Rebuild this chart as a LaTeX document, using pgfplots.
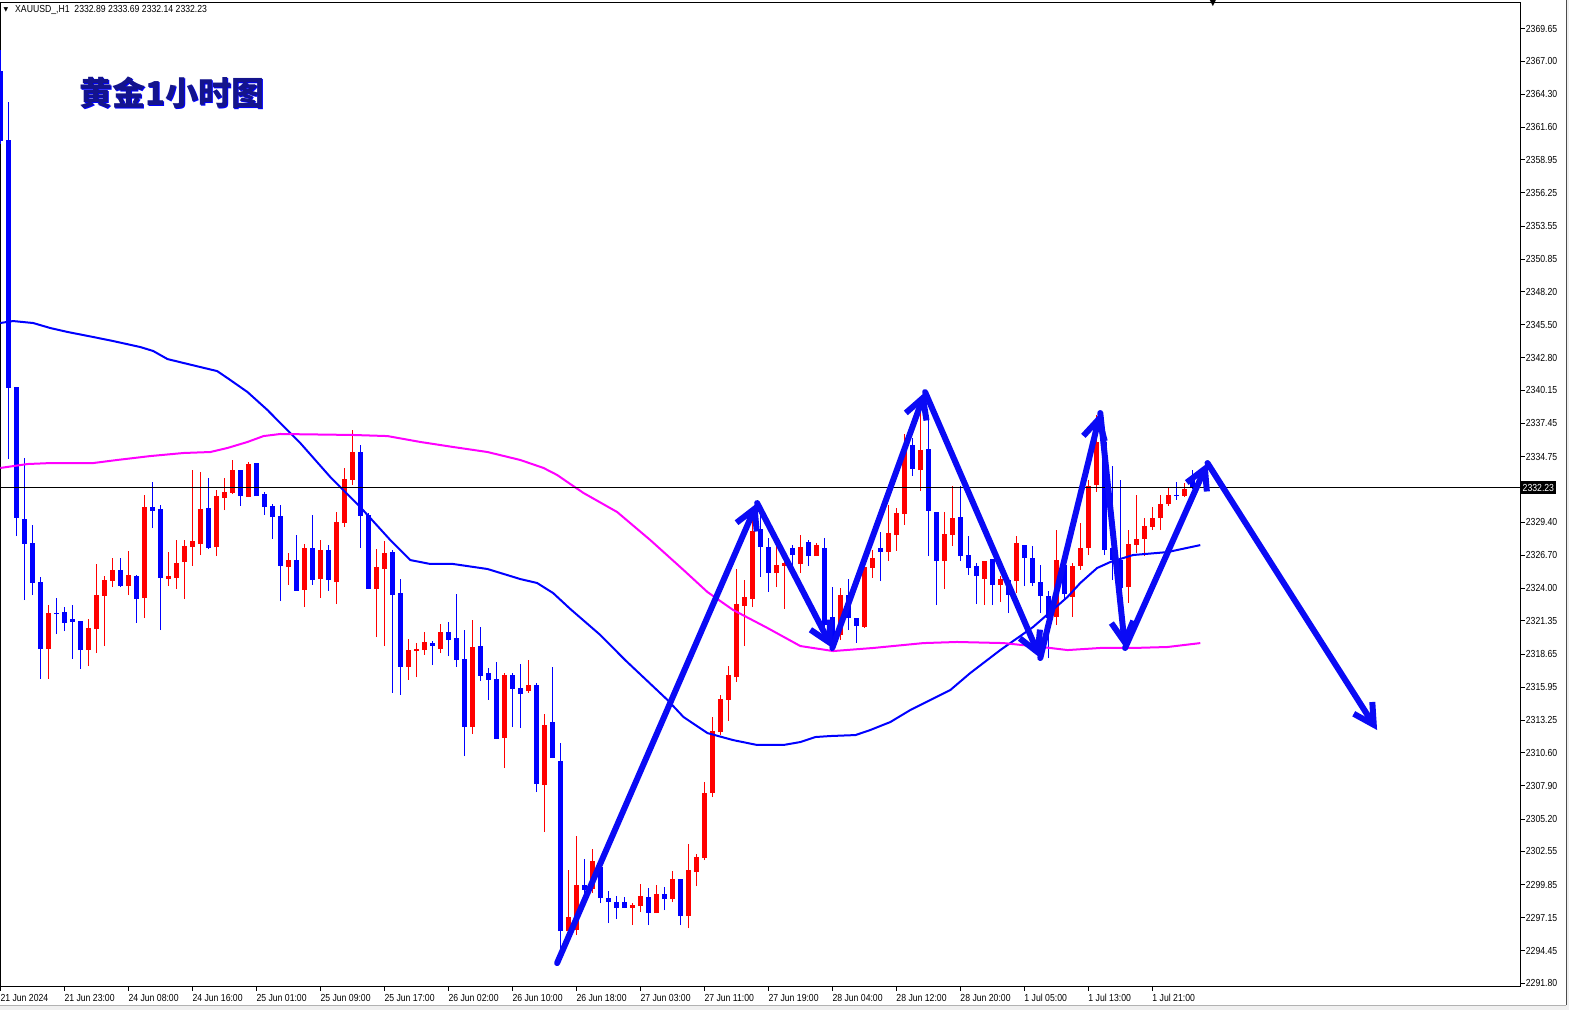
\documentclass[border=0pt]{standalone}
\usepackage{fontspec}
\usepackage{pgfplots}
\usepackage{pgfplotstable}
\pgfplotsset{compat=1.18}
\usetikzlibrary{arrows.meta}
\setmainfont{Liberation Sans}
\newfontfamily\tickfont[FakeStretch=0.85]{Liberation Sans}
\newfontfamily\cjk{Noto Sans CJK SC}
\newfontfamily\sym{DejaVu Sans}
\definecolor{mablue}{RGB}{0,0,255}
\definecolor{mamag}{RGB}{255,0,255}
\definecolor{candred}{RGB}{255,0,0}
\definecolor{arrblue}{RGB}{10,10,245}

\pgfplotstableread{
i O H L C
6 2319.05 2322.64 2316.61 2321.99
11 2318.97 2321.50 2317.67 2320.77
12 2320.68 2325.99 2318.73 2323.46
13 2323.38 2325.01 2319.30 2324.68
14 2324.60 2326.47 2324.11 2325.49
16 2324.19 2327.05 2323.46 2325.10
18 2323.21 2331.61 2321.58 2330.63
21 2324.76 2326.96 2324.19 2325.01
22 2324.85 2327.94 2323.95 2326.07
23 2326.15 2327.94 2323.13 2327.45
24 2327.37 2333.65 2325.83 2327.86
25 2327.62 2333.49 2326.72 2330.47
27 2327.37 2332.02 2326.64 2331.53
28 2331.37 2333.00 2330.39 2331.86
29 2331.78 2334.47 2331.70 2333.65
31 2331.45 2334.30 2331.45 2334.14
36 2325.74 2326.88 2324.28 2326.31
38 2323.87 2327.62 2322.48 2327.30
40 2324.76 2327.94 2323.21 2327.13
42 2324.52 2330.23 2322.72 2329.42
43 2329.33 2333.82 2329.01 2332.92
44 2332.84 2336.91 2332.43 2335.12
47 2323.95 2327.21 2320.03 2325.74
48 2325.57 2327.86 2319.30 2326.88
51 2317.59 2319.87 2316.53 2318.97
52 2318.89 2319.55 2316.77 2319.05
53 2318.97 2320.44 2318.57 2319.63
55 2319.05 2321.09 2318.73 2320.44
59 2312.69 2321.42 2312.12 2319.22
63 2311.79 2317.10 2309.35 2316.94
66 2315.63 2318.16 2315.47 2316.12
68 2307.96 2313.75 2304.13 2312.86
71 2296.06 2301.03 2295.32 2297.20
72 2296.14 2303.80 2295.73 2299.81
74 2299.48 2302.75 2299.16 2301.77
79 2297.93 2298.34 2296.55 2298.18
80 2298.10 2299.89 2297.61 2298.93
82 2297.52 2299.81 2297.52 2299.08
84 2298.67 2300.95 2298.42 2300.30
86 2297.28 2303.15 2296.30 2301.03
87 2300.87 2302.34 2299.73 2302.09
88 2302.01 2308.21 2301.85 2307.31
89 2307.31 2313.51 2306.98 2312.36
90 2312.28 2315.31 2312.04 2314.98
91 2314.90 2317.67 2313.18 2316.94
92 2316.77 2325.57 2316.36 2322.72
93 2322.56 2324.68 2319.30 2323.30
94 2323.13 2330.39 2322.48 2328.68
97 2325.25 2327.53 2324.11 2325.91
98 2325.83 2326.96 2322.32 2326.07
100 2325.99 2328.35 2325.25 2327.37
102 2326.64 2327.70 2326.64 2327.53
105 2320.20 2324.03 2319.79 2323.46
108 2320.85 2325.91 2320.77 2325.74
109 2325.66 2327.13 2324.85 2326.47
111 2326.96 2330.80 2326.23 2328.51
112 2328.35 2330.55 2327.05 2330.15
113 2330.07 2336.59 2329.17 2335.53
115 2333.65 2338.71 2331.94 2335.28
118 2326.23 2330.23 2323.95 2328.43
119 2328.35 2332.35 2327.45 2329.74
123 2324.76 2326.23 2322.64 2326.23
125 2324.28 2325.01 2322.89 2324.76
127 2324.60 2328.27 2323.63 2327.70
132 2321.67 2328.76 2321.01 2326.31
134 2323.30 2326.07 2321.67 2325.83
135 2325.83 2329.33 2325.49 2327.30
136 2327.30 2332.84 2326.72 2332.35
137 2332.43 2338.14 2331.86 2335.94
141 2324.11 2328.76 2322.81 2327.62
142 2327.53 2331.61 2326.88 2328.03
143 2328.03 2329.74 2326.64 2329.09
144 2329.01 2330.63 2328.76 2329.74
145 2329.74 2331.61 2328.76 2330.88
146 2330.88 2332.27 2330.72 2331.61
148 2331.53 2332.59 2331.45 2332.10
}\bull

\pgfplotstableread{
i O H L C
0 2366.19 2367.90 2360.24 2360.48
1 2360.56 2363.66 2334.55 2340.34
2 2340.42 2340.42 2328.27 2329.74
3 2329.66 2334.63 2323.05 2327.62
4 2327.70 2329.17 2323.46 2324.44
5 2324.52 2324.93 2316.61 2319.05
7 2321.99 2323.21 2320.28 2321.91
8 2322.07 2322.48 2320.52 2321.18
9 2321.50 2322.64 2318.24 2321.26
10 2321.34 2321.34 2317.42 2318.97
15 2325.49 2326.47 2324.11 2324.19
17 2325.01 2325.10 2321.18 2323.13
19 2330.63 2332.67 2328.92 2330.31
20 2330.47 2330.80 2320.60 2324.85
26 2330.55 2333.00 2327.21 2327.30
30 2333.65 2333.65 2330.72 2331.53
32 2334.22 2334.22 2331.53 2331.53
33 2331.70 2331.86 2329.99 2330.63
34 2330.72 2330.88 2328.03 2329.82
35 2329.91 2330.80 2322.97 2325.83
37 2326.31 2328.35 2323.79 2323.79
39 2327.30 2329.99 2324.28 2324.68
41 2327.13 2327.53 2323.79 2324.68
45 2335.12 2335.69 2327.30 2329.91
46 2329.99 2330.15 2323.95 2323.95
49 2326.96 2327.13 2315.47 2323.46
50 2323.63 2324.76 2315.31 2317.59
54 2319.55 2319.71 2317.75 2319.30
56 2320.44 2321.26 2318.48 2319.79
57 2319.95 2323.54 2317.59 2318.16
58 2318.24 2320.60 2310.32 2312.69
60 2319.30 2320.85 2316.45 2316.86
61 2317.10 2317.51 2314.90 2316.53
62 2316.61 2318.00 2311.71 2311.71
64 2316.94 2317.10 2312.69 2315.79
65 2315.87 2317.83 2312.61 2315.39
67 2316.12 2316.28 2307.39 2308.05
69 2313.10 2317.59 2310.16 2310.16
70 2309.92 2311.39 2294.26 2296.06
73 2299.81 2301.93 2299.16 2299.40
75 2301.28 2301.28 2298.34 2298.75
76 2298.75 2299.32 2296.71 2298.42
77 2298.42 2298.93 2297.03 2297.93
78 2298.42 2298.85 2297.93 2297.93
81 2298.85 2299.56 2296.55 2297.52
83 2299.08 2299.65 2297.77 2298.67
85 2300.30 2300.30 2296.55 2297.28
95 2328.84 2330.15 2324.93 2327.37
96 2327.37 2328.11 2323.71 2325.25
99 2327.30 2327.53 2324.93 2326.72
101 2327.78 2327.94 2325.83 2326.64
103 2327.30 2328.11 2320.85 2321.01
104 2321.67 2324.11 2319.22 2319.79
106 2323.46 2324.76 2320.60 2321.58
107 2321.58 2321.58 2319.55 2320.93
110 2327.30 2328.59 2324.60 2326.96
114 2335.69 2336.26 2333.17 2333.73
116 2335.36 2338.14 2326.64 2330.31
117 2330.23 2330.23 2322.64 2326.23
120 2329.82 2332.35 2326.23 2326.64
121 2326.72 2328.27 2325.10 2325.66
122 2325.83 2326.07 2322.72 2325.01
124 2326.39 2326.39 2322.64 2324.28
126 2324.68 2324.85 2321.99 2323.46
128 2327.53 2327.53 2324.19 2326.47
129 2326.47 2327.45 2324.19 2324.44
130 2324.52 2325.91 2321.99 2323.38
131 2323.38 2323.79 2318.32 2321.58
133 2325.91 2326.31 2323.05 2323.54
138 2335.94 2336.51 2326.72 2327.13
139 2327.30 2333.98 2324.68 2326.31
140 2326.31 2332.84 2322.24 2324.03
147 2331.61 2332.67 2331.21 2331.53
149 2332.89 2333.69 2332.14 2332.23
}\bear

\pgfplotstableread{
x y
0 2345.64
1.6 2345.80
4.1 2345.64
6.25 2345.23
8.4 2344.91
11.6 2344.50
14.1 2344.17
17.5 2343.68
19.1 2343.36
20.9 2342.70
22.9 2342.38
25 2342.05
27.1 2341.72
28.4 2341.15
30.9 2340.01
33.4 2338.54
35 2337.48
37.5 2335.85
41.25 2333.08
45 2330.63
48.75 2327.94
51.25 2326.31
53.75 2325.99
56.6 2325.99
60.9 2325.58
65 2324.76
67.1 2324.44
69.1 2323.62
71.25 2322.32
75 2320.20
78.1 2318.16
83.4 2314.90
85.4 2313.51
88.4 2312.20
91.6 2311.63
94.6 2311.23
97.9 2311.23
100 2311.47
101.9 2311.88
103.75 2311.96
106.9 2312.04
108.75 2312.45
111.25 2313.10
113.75 2314.08
116.25 2314.90
118.75 2315.71
121.25 2317.10
125 2318.97
129.1 2320.85
133.4 2323.30
135 2324.44
137.1 2325.66
138.75 2326.15
141.6 2326.72
145.9 2326.96
150 2327.53
}\mafast

\pgfplotstableread{
x y
0 2333.82
3.4 2334.14
6.25 2334.22
11.6 2334.22
14.6 2334.47
18.75 2334.79
22.9 2335.04
26.25 2335.12
28.4 2335.45
30.9 2335.94
32.9 2336.42
35 2336.59
44.1 2336.51
48.4 2336.42
52.5 2335.94
56.6 2335.53
60.9 2335.12
65 2334.47
67.9 2333.82
69.6 2333.25
71.25 2332.51
72.9 2331.78
77.1 2330.23
81.25 2327.94
85.4 2325.50
88.4 2323.70
91.6 2322.24
95.9 2320.77
100 2319.30
104.1 2318.89
109.1 2319.14
115.4 2319.54
119.6 2319.63
125.4 2319.54
131.25 2319.14
133.4 2318.97
137.5 2319.14
141.6 2319.14
145.9 2319.22
150 2319.54
}\maslow

\pgfplotsset{
  wick/.style={draw=none, mark=none, forget plot,
    error bars/.cd, y dir=plus, y explicit, error mark=none,
    error bar style={draw=#1, line width=1pt}},
  body/.style={draw=none, mark=none, forget plot,
    error bars/.cd, y dir=plus, y explicit, error mark=none,
    error bar style={draw=#1, line width=5pt}},
  arr/.style={draw=arrblue, line width=6pt, line cap=round, line join=round,
    -{Straight Barb[length=20pt,width=22pt]}, forget plot},
}

\begin{document}
\begin{tikzpicture}
\useasboundingbox (0,-23.3pt) rectangle (1569pt,986.7pt);
\fill[white] (0,-23.3pt) rectangle (1569pt,986.7pt);
\begin{axis}[
  at={(0pt,0pt)}, anchor=south west,
  scale only axis, width=1520.7pt, height=984pt,
  xmin=-0.04, xmax=190.05, ymin=2291.52, ymax=2371.76,
  axis line style={line width=0.8pt},
  tick align=outside, major tick length=4pt,
  tick style={black, line width=0.8pt},
  xtick pos=lower, xticklabel pos=lower,
  ytick pos=upper, yticklabel pos=upper,
  xtick={0,8,...,144},
  xticklabels={21 Jun 2024,21 Jun 23:00,24 Jun 08:00,24 Jun 16:00,25 Jun 01:00,25 Jun 09:00,25 Jun 17:00,26 Jun 02:00,26 Jun 10:00,26 Jun 18:00,27 Jun 03:00,27 Jun 11:00,27 Jun 19:00,28 Jun 04:00,28 Jun 12:00,28 Jun 20:00,1 Jul 05:00,1 Jul 13:00,1 Jul 21:00},
  ytick={2291.80,2294.45,2297.15,2299.85,2302.55,2305.20,2307.90,2310.60,2313.25,2315.95,2318.65,2321.35,2324.00,2326.70,2329.40,2334.75,2337.45,2340.15,2342.80,2345.50,2348.20,2350.85,2353.55,2356.25,2358.95,2361.60,2364.30,2367.00,2369.65},
  yticklabels={2291.80,2294.45,2297.15,2299.85,2302.55,2305.20,2307.90,2310.60,2313.25,2315.95,2318.65,2321.35,2324.00,2326.70,2329.40,2334.75,2337.45,2340.15,2342.80,2345.50,2348.20,2350.85,2353.55,2356.25,2358.95,2361.60,2364.30,2367.00,2369.65},
  /pgf/number format/assume math mode=true,
  tick label style={font=\tickfont\fontsize{10.2}{11}\selectfont, inner sep=0pt},
  xticklabel style={anchor=north west, yshift=-3pt},
  yticklabel style={anchor=west, xshift=1pt},
]
\addplot[wick=candred] table[x=i, y=L, y error expr={\thisrow{H}-\thisrow{L}}] {\bull};
\addplot[body=candred] table[x=i, y=O, y error expr={max(\thisrow{C}-\thisrow{O},0.08)}] {\bull};
\addplot[wick=mablue] table[x=i, y=L, y error expr={\thisrow{H}-\thisrow{L}}] {\bear};
\addplot[body=mablue] table[x=i, y=C, y error expr={max(\thisrow{O}-\thisrow{C},0.08)}] {\bear};

\addplot[mablue, line width=2pt, forget plot] table[x=x, y=y] {\mafast};
\addplot[mamag, line width=2pt, forget plot] table[x=x, y=y] {\maslow};

\addplot[black, line width=1pt, forget plot] coordinates {(-1,2332.23) (191,2332.23)};

\addplot[arr] coordinates {(69.6,2293.45) (94.6,2330.96)};
\addplot[arr] coordinates {(94.6,2330.96) (104,2319.14)};
\addplot[arr] coordinates {(104,2319.14) (115.6,2340.01)};
\addplot[arr] coordinates {(115.6,2340.01) (130,2318.32)};
\addplot[arr] coordinates {(130,2318.32) (137.5,2338.30)};
\addplot[arr] coordinates {(137.5,2338.30) (140.6,2319.14)};
\addplot[arr] coordinates {(140.6,2319.14) (150.9,2334.22)};
\addplot[arr] coordinates {(150.9,2334.22) (172.1,2312.45)};
\end{axis}

% title with shadow
\node[font=\cjk\bfseries\fontsize{33}{33}\selectfont, text=blue, inner sep=0pt] at (173.3pt,892.5pt) {黄金1小时图};
\node[font=\cjk\bfseries\fontsize{33}{33}\selectfont, text={rgb,255:red,20;green,20;blue,140}, inner sep=0pt] at (172pt,893.7pt) {黄金1小时图};

% header info
\node[font=\sym\fontsize{6}{6}\selectfont, inner sep=0pt] at (6pt,976.7pt) {▼};
\node[anchor=west, font=\tickfont\fontsize{10.2}{11}\selectfont, inner sep=0pt] at (15pt,976.7pt) {XAUUSD\_,H1\ \ 2332.89 2333.69 2332.14 2332.23};
\node[font=\sym\fontsize{10}{10}\selectfont, inner sep=0pt, anchor=north] at (1213pt,987.5pt) {▼};

% current price label
\node[fill=black, text=white, font=\tickfont\fontsize{10.2}{11}\selectfont, inner xsep=1.5pt, inner ysep=2.5pt, anchor=west] at (1521pt,499.2pt) {2332.23};

% window border
\fill[gray!12] (0,-23.3pt) rectangle (1569pt,-18.3pt);
\draw[gray!60, line width=0.8pt] (0,-18.3pt) -- (1566pt,-18.3pt);
\draw[gray!60!black, line width=1pt] (1566pt,-18.3pt) -- (1566pt,986.7pt);
\fill[gray!12] (1566.5pt,-23.3pt) rectangle (1569pt,986.7pt);
\end{tikzpicture}
\end{document}
